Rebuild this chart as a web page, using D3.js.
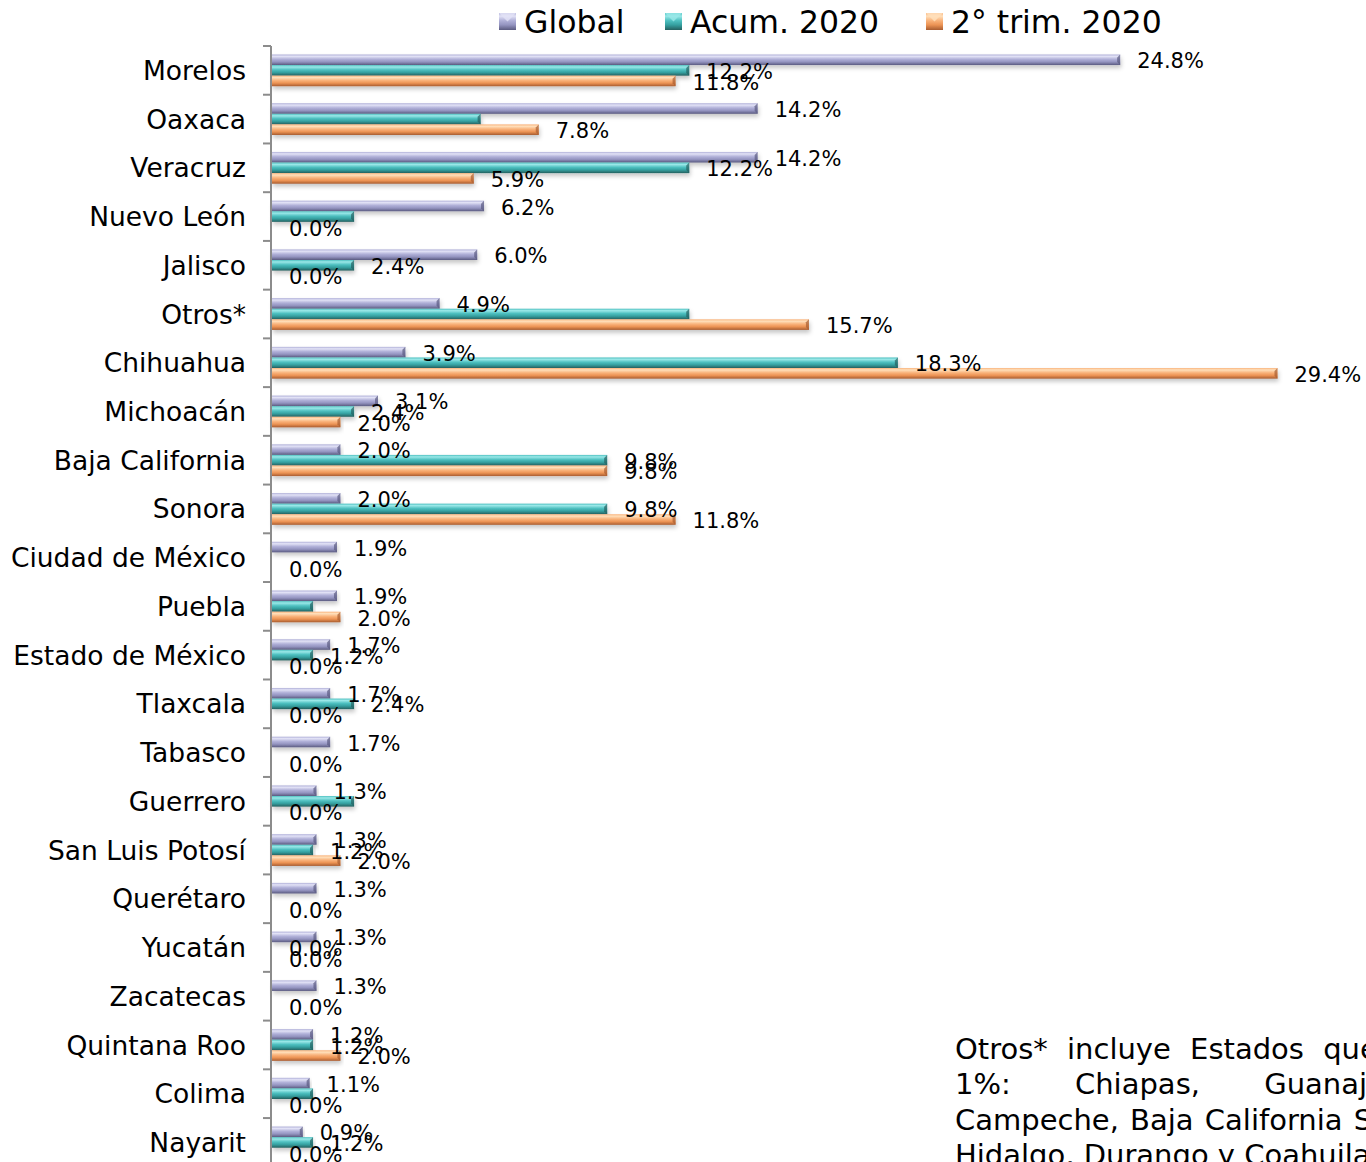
<!DOCTYPE html>
<html>
<head>
<meta charset="utf-8">
<script src="https://cdn.jsdelivr.net/npm/d3@7"></script>
<style>
  body { margin: 0; background: #fff; }
  svg { display: block; font-family: 'DejaVu Sans', Verdana, sans-serif; }
</style>
</head>
<body>
<div id="chart"></div>
<script>
// Datos (porcentajes)
const estados = ['Morelos', 'Oaxaca', 'Veracruz', 'Nuevo León', 'Jalisco', 'Otros*', 'Chihuahua',
  'Michoacán', 'Baja California', 'Sonora', 'Ciudad de México', 'Puebla', 'Estado de México',
  'Tlaxcala', 'Tabasco', 'Guerrero', 'San Luis Potosí', 'Querétaro', 'Yucatán', 'Zacatecas',
  'Quintana Roo', 'Colima', 'Nayarit'];

const series = ['Global', 'Acum. 2020', '2° trim. 2020'];

const globalVals = [24.8, 14.2, 14.2, 6.2, 6.0, 4.9, 3.9, 3.1, 2.0, 2.0, 1.9, 1.9, 1.7, 1.7, 1.7, 1.3, 1.3, 1.3, 1.3, 1.3, 1.2, 1.1, 0.9];
const acumVals = [12.2, 6.1, 12.2, 2.4, 2.4, 12.2, 18.3, 2.4, 9.8, 9.8, 0.0, 1.2, 1.2, 2.4, 0.0, 2.4, 1.2, 0.0, 0.0, 0.0, 1.2, 1.2, 1.2];
const trimVals = [11.8, 7.8, 5.9, 0.0, 0.0, 15.7, 29.4, 2.0, 9.8, 11.8, 0.0, 2.0, 0.0, 0.0, 0.0, 0.0, 2.0, 0.0, 0.0, 0.0, 2.0, 0.0, 0.0];

// etiquetas visibles de la serie Acum. 2020 (algunas no aparecen en el original)
const acumShown = [true, false, true, false, true, false, true, true, true, true, false, false, true,
  true, false, false, true, false, true, false, true, false, true];

const nota = [
  'Otros* incluye Estados que representan menos del',
  '1%: Chiapas, Guanajuato, Sinaloa,',
  'Campeche, Baja California Sur,',
  'Hidalgo, Durango y Coahuila.'
];

const W = 1366, H = 1162;

const svg = d3.select('#chart')
  .append('svg')
  .attr('width', W)
  .attr('height', H);

const defs = svg.append('defs');

// degradados para el efecto bisel
const palettes = [
  ['#e2e2f6', '#b0b0d8', '#9494c0', '#5a5a80'],
  ['#9ae8e8', '#4ec0c0', '#35a0a0', '#25605f'],
  ['#ffe0bc', '#f9b27a', '#ec9354', '#a85c30']
];
palettes.forEach((p, i) => {
  const g = defs.append('linearGradient')
    .attr('id', 'grad' + i)
    .attr('x1', 0).attr('y1', 0).attr('x2', 0).attr('y2', 1);
  g.append('stop').attr('offset', '0%').attr('stop-color', p[1]);
  g.append('stop').attr('offset', '18%').attr('stop-color', p[0]);
  g.append('stop').attr('offset', '45%').attr('stop-color', p[1]);
  g.append('stop').attr('offset', '70%').attr('stop-color', p[2]);
  g.append('stop').attr('offset', '100%').attr('stop-color', p[3]);
});

const shadow = defs.append('filter').attr('id', 'shadow')
  .attr('x', '-5%').attr('y', '-50%').attr('width', '110%').attr('height', '250%');
shadow.append('feDropShadow')
  .attr('dx', 1).attr('dy', 3).attr('stdDeviation', 2)
  .attr('flood-color', '#000').attr('flood-opacity', 0.22);

// Escalas
const x = d3.scaleLinear()
  .domain([0, 30])
  .range([272, 272 + 30 * 34.2]);

const y = d3.scaleBand()
  .domain(estados)
  .range([46, 46 + estados.length * 48.73]);

const y1 = d3.scaleBand()
  .domain(series)
  .range([0, y.bandwidth()])
  .paddingOuter(0.8);

const rows = estados.map((e, i) => ({
  estado: e,
  valores: [
    { serie: 0, v: globalVals[i], label: true },
    { serie: 1, v: acumVals[i], label: acumShown[i] },
    { serie: 2, v: trimVals[i], label: true }
  ]
}));

// Barras
const grupos = svg.append('g')
  .selectAll('g')
  .data(rows)
  .join('g')
  .attr('transform', d => `translate(0,${y(d.estado)})`);

grupos.selectAll('rect.bar')
  .data(d => d.valores.filter(v => v.v > 0))
  .join('rect')
  .attr('class', 'bar')
  .attr('x', x(0))
  .attr('y', d => y1(series[d.serie]))
  .attr('width', d => x(d.v) - x(0))
  .attr('height', y1.bandwidth())
  .attr('fill', d => `url(#grad${d.serie})`)
  .attr('filter', 'url(#shadow)');

// tapa derecha del bisel
grupos.selectAll('path.cap')
  .data(d => d.valores.filter(v => v.v > 0))
  .join('path')
  .attr('class', 'cap')
  .attr('d', d => {
    const x1 = x(d.v), y0 = y1(series[d.serie]), h = y1.bandwidth();
    return `M${x1 - 3},${y0 + 3} L${x1},${y0} L${x1},${y0 + h} L${x1 - 3},${y0 + h - 3} Z`;
  })
  .attr('fill', d => palettes[d.serie][3])
  .attr('opacity', 0.7);

// Etiquetas de datos
grupos.selectAll('text.lbl')
  .data(d => d.valores.filter(v => v.label))
  .join('text')
  .attr('class', 'lbl')
  .attr('x', d => x(d.v) + 17)
  .attr('y', d => y1(series[d.serie]) + y1.bandwidth() / 2 + 1)
  .attr('dy', '0.36em')
  .attr('font-size', 21)
  .attr('fill', '#000')
  .text(d => d.v.toFixed(1) + '%');

// Eje vertical
const axis = svg.append('g')
  .attr('transform', `translate(${x(0) - 1},0)`)
  .call(d3.axisLeft(y).tickSize(0).tickFormat(''));
axis.select('.domain').attr('stroke', '#8c8c8c').attr('stroke-width', 2)
  .attr('d', `M0,${y.range()[0]}V${y.range()[1]}`);

axis.selectAll('line.sep')
  .data(d3.range(estados.length + 1))
  .join('line')
  .attr('class', 'sep')
  .attr('x1', -8).attr('x2', 0)
  .attr('y1', i => y.range()[0] + i * y.step())
  .attr('y2', i => y.range()[0] + i * y.step())
  .attr('stroke', '#8c8c8c')
  .attr('stroke-width', 2);

svg.append('g')
  .selectAll('text')
  .data(estados)
  .join('text')
  .attr('x', 246)
  .attr('y', d => y(d) + y.bandwidth() / 2)
  .attr('dy', '0.36em')
  .attr('text-anchor', 'end')
  .attr('font-size', 26.5)
  .attr('fill', '#000')
  .text(d => d);

// Leyenda
const legX = [499, 665, 926];
const leyenda = svg.append('g')
  .selectAll('g')
  .data(series)
  .join('g')
  .attr('transform', (d, i) => `translate(${legX[i]},13)`);

leyenda.append('rect')
  .attr('width', 17).attr('height', 17)
  .attr('fill', (d, i) => `url(#grad${i})`);
leyenda.append('path')
  .attr('d', 'M0,0 L17,0 L8.5,8.5 Z')
  .attr('fill', (d, i) => palettes[i][0])
  .attr('opacity', 0.8);

leyenda.append('text')
  .attr('x', 25)
  .attr('y', 20)
  .attr('font-size', 31.5)
  .attr('fill', '#000')
  .text(d => d);

// Nota al pie (justificada)
const notaSpacing = [10, 55, 2, 0];
svg.append('g')
  .selectAll('text')
  .data(nota)
  .join('text')
  .attr('x', 955)
  .attr('y', (d, i) => 1059 + i * 35.3)
  .attr('font-size', 29)
  .attr('word-spacing', (d, i) => notaSpacing[i])
  .attr('fill', '#000')
  .text(d => d);
</script>
</body>
</html>
